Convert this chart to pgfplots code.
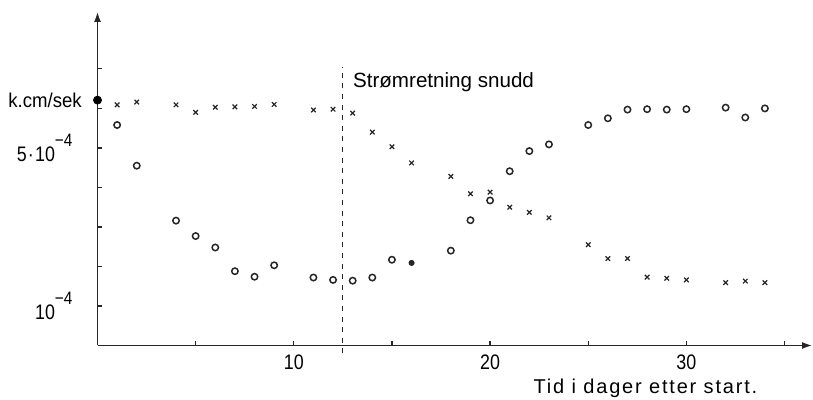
\documentclass[border=0pt]{standalone}
\usepackage{fontspec}
\setmainfont{Liberation Sans}
\newfontfamily\cond{Liberation Sans}[FakeStretch=0.85]
\usepackage{pgfplots}
\pgfplotsset{compat=1.18}
\usetikzlibrary{arrows.meta}
\begin{document}
\fontsize{10}{12}\selectfont
\begin{tikzpicture}
\path[use as bounding box] (0,0) rectangle (406.5pt,200pt);
\begin{axis}[
  at={(48.75pt,27.25pt)}, anchor=south west,
  scale only axis, width=357.25pt, height=166.75pt,
  xmin=0, xmax=36.4, ymin=0, ymax=8.44,
  axis lines=left,
  axis line style={line width=0.7pt, black!85, -{Latex[length=5pt,width=3.5pt]}},
  xtick={10,20,30}, minor xtick={5,15,25,35},
  xticklabels={10,20,30},
  ytick={1,2,3,4,5,6,7},
  yticklabels={{10\raisebox{1.35ex}{\small −4}},,,,{5\kern0.6pt·\kern0.6pt10\raisebox{1.35ex}{\small −4}},,},
  ticklabel style={font=\cond\fontsize{10.5}{12}\selectfont},
  yticklabel style={xshift=-9pt},
  xticklabel style={yshift=-1pt},
  tick align=inside, major tick length=2.2pt, minor tick length=2.2pt,
  tick style={line width=0.6pt, black!85},
  /pgf/number format/assume math mode=true,
  clip=false,
]
% dashed line: direction of flow reversed
\addplot[black!85, line width=0.5pt, dash pattern=on 2.5pt off 2.8pt] coordinates {(12.5,-0.2) (12.5,7.05)};
\node[anchor=west, inner sep=0] at (axis cs:13.0,6.67) {\fontsize{10.3}{12}\selectfont Strømretning snudd};
\node[anchor=west, inner sep=0] at (axis cs:22.2,-1.08) {\addfontfeature{LetterSpace=9}Tid i dager etter start.};
\node[anchor=east, inner sep=0] at (axis cs:-0.78,6.21) {\addfontfeature{FakeStretch=0.93}k.cm/sek};
% starting value
\addplot[only marks, mark=*, mark size=2pt, black] coordinates {(0,6.21)};
% crosses
\addplot[only marks, mark=x, mark size=1.6pt, mark options={line width=0.6pt}, black!85] coordinates {
(1,6.09) (2,6.16) (4,6.09) (5,5.90) (6,6.03) (7,6.04) (8,6.05) (9,6.10)
(11,5.96) (12,5.98) (13,5.88) (14,5.40) (15,5.03) (16,4.62) (18,4.28)
(19,3.84) (20,3.88) (21,3.50) (22,3.37) (23,3.23) (25,2.55) (26,2.20)
(27,2.20) (28,1.73) (29,1.70) (30,1.66) (32,1.59) (33,1.63) (34,1.59)
};
% circles
\addplot[only marks, mark=o, mark size=1.6pt, mark options={line width=0.75pt}, black!85] coordinates {
(1,5.58) (2,4.55) (4,3.16) (5,2.77) (6,2.48) (7,1.88) (8,1.74) (9,2.03)
(11,1.72) (12,1.66) (13,1.64) (14,1.72) (15,2.17) (18,2.40)
(19,3.17) (20,3.67) (21,4.41) (22,4.92) (23,5.09) (25,5.58) (26,5.75)
(27,5.97) (28,5.98) (29,5.97) (30,5.98) (32,6.02) (33,5.77) (34,6.00)
};
\addplot[only marks, mark=*, mark size=1.3pt, black!85] coordinates {(16,2.09)};
\end{axis}
\end{tikzpicture}
\end{document}
